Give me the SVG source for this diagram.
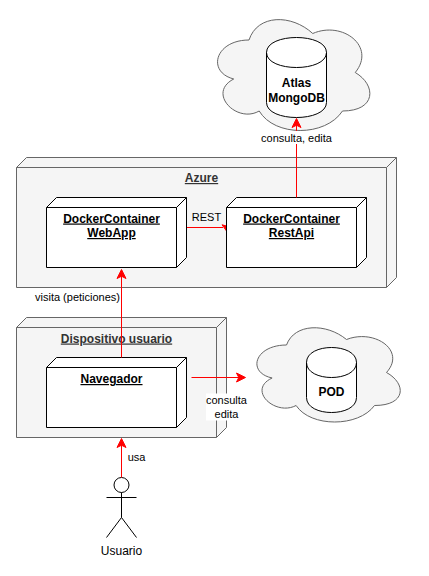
<svg xmlns="http://www.w3.org/2000/svg" width="429" height="576" viewBox="0 0 429 576">
<style>
text{font-family:"Liberation Sans",Arial,sans-serif;text-anchor:middle;fill:#000}
.b{font-size:12px;font-weight:bold}
.u{text-decoration:underline}
.g{fill:#333}
.l{font-size:11px}
.box{fill:#f5f5f5;stroke:#666;stroke-width:1;stroke-linejoin:miter}
.node{fill:#fff;stroke:#000;stroke-width:1}
.thin{fill:none;stroke:#666;stroke-width:1}
.k{fill:none;stroke:#000;stroke-width:1}
.cloud{fill:#f5f5f5;stroke:#666;stroke-width:1}
.e{fill:none;stroke:#f00;stroke-width:1}
.h{fill:#f00;stroke:#f00;stroke-width:1}
</style>
<g id="cloud-atlas">
<path class="cloud" d="M249 40C215 40 206.500 72 233.700 79C206.500 93 237 124 259.200 111C274.500 137 325.500 137 342.500 111C376.500 111 376.500 85 355.250 72.500C376.500 46.500 342.500 20.500 312.750 33.500C291.500 14 257.500 14 249 40Z"/>
</g>
<g id="node-atlas">
<path class="node" d="M266.500 52.500C266.500 32.500 326.500 32.500 326.500 52.500V102.500C326.500 122.500 266.500 122.500 266.500 102.500Z"/>
<path class="k" d="M266.500 52.500C266.500 72.500 326.500 72.500 326.500 52.500"/>
<text class="b" x="296.500" y="87">Atlas</text>
<text class="b" x="296.500" y="101.500">MongoDB</text>
</g>
<g id="node-azure">
<path class="box" d="M16.500 167.500L26.500 157.500H396.500V277.500L386.500 287.500H16.500Z"/>
<path class="thin" d="M16.500 167.500H386.500V287.500M386.500 167.500L396.500 157.500"/>
<text class="b u g" x="201.500" y="182">Azure</text>
</g>
<g id="connectors-under">
<path class="e" d="M186.500 227.500H223"/>
<path class="h" d="M222 224.800L226.500 226V231L224 227.500Z"/>
</g>
<g id="node-webapp">
<path class="node" d="M46.500 207.500L56.500 197.500H186.500V257.500L176.500 267.500H46.500Z"/>
<path class="k" d="M46.500 207.500H176.500V267.500M176.500 207.500L186.500 197.500"/>
<text class="b u" x="111.500" y="222.500">DockerContainer</text>
<text class="b u" x="111.500" y="237">WebApp</text>
</g>
<g id="node-restapi">
<path class="node" d="M226.500 207.500L236.500 197.500H366.500V257.500L356.500 267.500H226.500Z"/>
<path class="k" d="M226.500 207.500H356.500V267.500M356.500 207.500L366.500 197.500"/>
<text class="b u" x="291.500" y="222.500">DockerContainer</text>
<text class="b u" x="291.500" y="237">RestApi</text>
</g>
<g id="node-dispositivo">
<path class="box" d="M16.500 327.500L26.500 317.500H226.500V427.500L216.500 437.500H16.500Z"/>
<path class="thin" d="M16.500 327.500H216.500V437.500M216.500 327.500L226.500 317.500"/>
<text class="b u g" x="116.500" y="342.500">Dispositivo usuario</text>
</g>
<g id="node-navegador">
<path class="node" d="M46.500 367.500L56.500 357.500H186.500V417.500L176.500 427.500H46.500Z"/>
<path class="k" d="M46.500 367.500H176.500V427.500M176.500 367.500L186.500 357.500"/>
<text class="b u" x="111.500" y="383">Navegador</text>
</g>
<g id="cloud-pod">
<path class="cloud" d="M286.500 345C254.500 345 246.500 372.500 272.100 378C246.500 390 275.300 416.500 296.100 405.500C310.500 427.500 358.500 427.500 374.500 405.500C406.500 405.500 406.500 383.500 386.500 372.500C406.500 350.500 374.500 328.500 346.500 339.500C326.500 323 294.500 323 286.500 345Z"/>
</g>
<g id="node-pod">
<path class="node" d="M306.500 362.500C306.500 342.500 356.500 342.500 356.500 362.500V397.500C356.500 417.500 306.500 417.500 306.500 397.500Z"/>
<path class="k" d="M306.500 362.500C306.500 382.500 356.500 382.500 356.500 362.500"/>
<text class="b" x="331.500" y="396">POD</text>
</g>
<g id="node-usuario">
<circle class="k" cx="121.500" cy="485" r="7.500"/>
<path class="k" d="M121.500 492.500V517.500M106.500 497.500H136.500M106.500 537.500L121.500 517.500L136.500 537.500"/>
<text x="121.500" y="555" font-size="12">Usuario</text>
</g>
<g id="connectors">
<path class="e" d="M296.500 197.500V125"/>
<path class="h" d="M296.500 118.500L301 127.500L296.500 125.250L292 127.500Z"/>
<rect x="261" y="131" width="71" height="13" fill="#fff"/>
<text class="l" x="296.500" y="141.500">consulta, edita</text>
<text class="l" x="206.500" y="221">REST</text>
<path class="e" d="M121.500 357.500V276"/>
<path class="h" d="M121.500 269.500L126 278.500L121.500 276.250L117 278.500Z"/>
<text class="l" x="77.500" y="301">visita (peticiones)</text>
<path class="e" d="M191.500 377.500H239"/>
<path class="h" d="M245.500 377.500L236.500 382L238.750 377.500L236.500 373Z"/>
<rect x="206" y="393.500" width="41" height="27" fill="#fff"/>
<text class="l" x="226.500" y="404">consulta</text>
<text class="l" x="226.500" y="418">edita</text>
<path class="e" d="M121.500 477.500V445"/>
<path class="h" d="M121.500 438.500L126 447.500L121.500 445.250L117 447.500Z"/>
<text class="l" x="136.500" y="461">usa</text>
</g>
</svg>
